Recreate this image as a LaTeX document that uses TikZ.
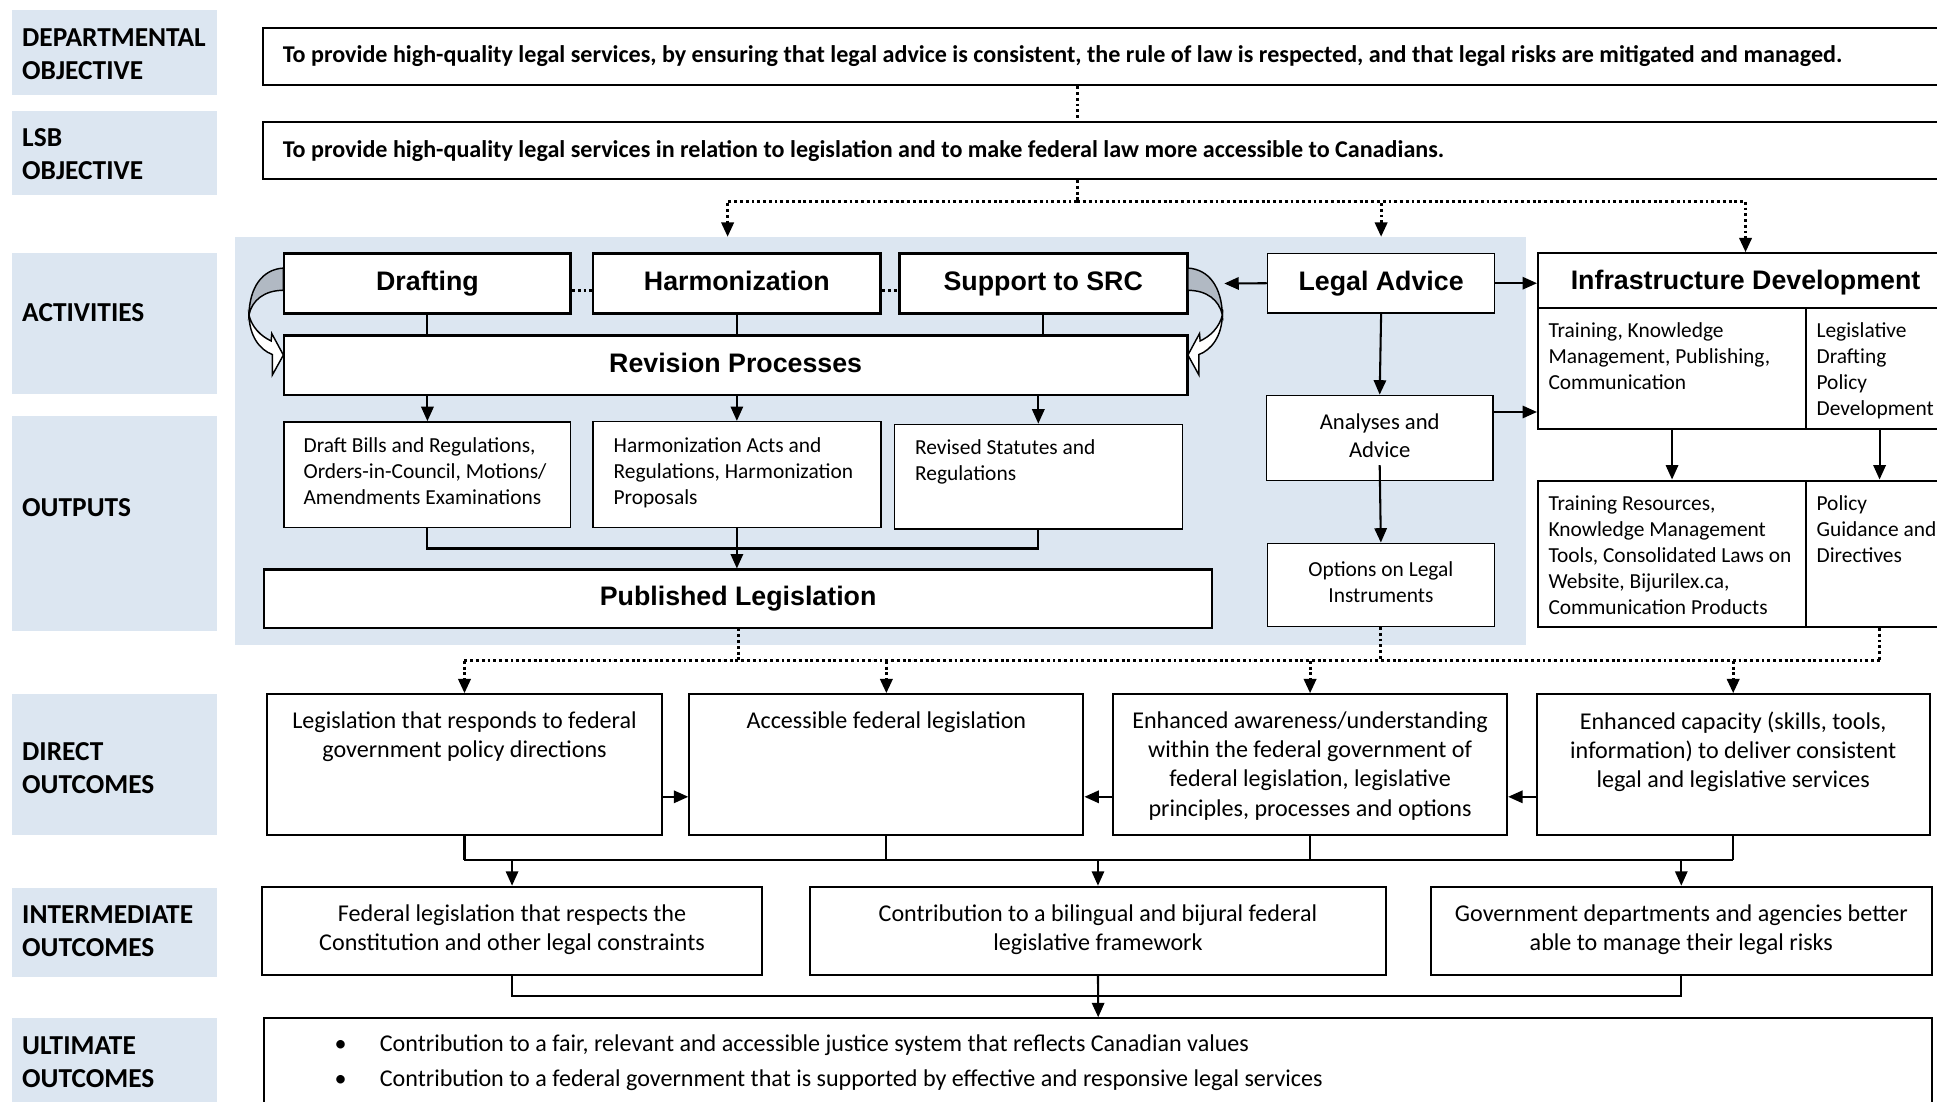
\documentclass[tikz,border=0pt]{standalone}
\usepackage{fontspec}
\setmainfont{Carlito}
\newfontfamily\headfont{Liberation Sans}
\usetikzlibrary{arrows.meta, positioning, fit, calc}

\definecolor{zoneblue}{HTML}{DCE6F1}
\definecolor{twistgray}{HTML}{B1B9C3}

\tikzset{
  rowlabel/.style={
    fill=zoneblue,
    inner sep=0pt
  },
  rowtext/.style={
    inner sep=0pt,
    anchor=west,
    align=left,
    font=\fontsize{13.3}{16}\selectfont\bfseries
  },
  zone/.style={
    fill=zoneblue,
    inner sep=0pt
  },
  objbox/.style={
    draw,
    line width=1pt,
    inner sep=0pt
  },
  objtext/.style={
    inner sep=0pt,
    anchor=base west,
    font=\fontsize{11.7}{14}\selectfont\bfseries
  },
  actbox/.style={
    draw,
    line width=1.3pt,
    fill=white,
    inner sep=0pt
  },
  headtext/.style={
    inner sep=0pt,
    anchor=base,
    font=\headfont\bfseries\fontsize{13}{15.6}\selectfont
  },
  outbox/.style={
    draw,
    line width=0.7pt,
    fill=white,
    inner sep=0pt
  },
  smalltext/.style={
    inner sep=0pt,
    anchor=north west,
    align=left,
    font=\fontsize{10.4}{12.6}\selectfont
  },
  midtext/.style={
    inner sep=0pt,
    align=center,
    font=\fontsize{10.4}{12.6}\selectfont
  },
  outcome/.style={
    draw,
    line width=1pt,
    fill=white,
    inner sep=0pt
  },
  outcometext/.style={
    inner sep=0pt,
    anchor=north,
    align=center,
    font=\fontsize{11.7}{14.2}\selectfont
  },
  link/.style={
    line width=1pt
  },
  arrow/.style={
    link,
    -{Triangle[length=7pt, width=6pt]}
  },
  dotlink/.style={
    line width=1.4pt,
    dash pattern=on 1.4pt off 1.4pt
  },
  dotarrow/.style={
    dotlink,
    -{Triangle[length=7pt, width=6pt]}
  },
  twist/.pic={
    \filldraw[fill=twistgray, line width=0.7pt]
      (229.4,217) .. controls (212,218) and (202,233) .. (201.5,255)
      .. controls (204,243) and (214,235) .. (229.4,235) -- cycle;
    \filldraw[fill=white, line width=0.7pt]
      (201.5,255) .. controls (202,272) and (210,283) .. (220.5,287)
      -- (220.5,303.5) -- (229.4,287.4) -- (220,270) -- (219.5,276)
      .. controls (211,272) and (204,265) .. (201.5,255) -- cycle;
  }
}

\begin{document}
\begin{tikzpicture}[x=0.6pt, y=-0.6pt]
  \useasboundingbox (0,0) rectangle (1568,892);
  \clip (0,0) rectangle (1568,892);
  \fill[white] (0,0) rectangle (1568,892);

  % Zone legislative
  \node[zone, fit={(190,192) (1235,522)}] (legzone) {};

  % Colonne de gauche
  \node[rowlabel, fit={(10,8) (176,77)}] (deptlbl) {};
  \node[rowtext] (deptlbltxt) at ($(deptlbl.west)+(8,1)$) {DEPARTMENTAL\\OBJECTIVE};
  \node[rowlabel, fit={(10,90) (176,158)}] (lsblbl) {};
  \node[rowtext] (lsblbltxt) at ($(lsblbl.west)+(8,1)$) {LSB\\OBJECTIVE};
  \node[rowlabel, fit={(10,205) (176,319)}] (actlbl) {};
  \node[rowtext] (actlbltxt) at ($(actlbl.west)+(8,-9)$) {ACTIVITIES};
  \node[rowlabel, fit={(10,337) (176,511)}] (outlbl) {};
  \node[rowtext] (outlbltxt) at ($(outlbl.west)+(8,-13)$) {OUTPUTS};
  \node[rowlabel, fit={(10,562) (176,676)}] (dirlbl) {};
  \node[rowtext] (dirlbltxt) at ($(dirlbl.west)+(8,3)$) {DIRECT\\OUTCOMES};
  \node[rowlabel, fit={(10,719) (176,790.6)}] (intlbl) {};
  \node[rowtext] (intlbltxt) at ($(intlbl.west)+(8,-1)$) {INTERMEDIATE\\OUTCOMES};
  \node[rowlabel, fit={(10,824) (176,895)}] (ultlbl) {};
  \node[rowtext] (ultlbltxt) at ($(ultlbl.west)+(8,0)$) {ULTIMATE\\OUTCOMES};

  % Objectifs
  \node[objbox, fit={(213,23) (1600,69)}] (deptobj) {};
  \node[objtext] (depttxt) at ($(deptobj.west)+(16.5,4.5)$) {To provide high-quality legal services, by ensuring that legal advice is consistent, the rule of law is respected, and that legal risks are mitigated and managed.};
  \node[objbox, fit={(213,98.5) (1600,145)}] (lsbobj) {};
  \node[objtext] (lsbtxt) at ($(lsbobj.west)+(16.5,6)$) {To provide high-quality legal services in relation to legislation and to make federal law more accessible to Canadians.};

  % Activites
  \node[actbox, fit={(230,205) (462,254)}] (draft) {};
  \node[headtext] (drafttxt) at ($(draft)+(0,6)$) {Drafting};
  \node[actbox, fit={(480,205) (713,254)}] (harm) {};
  \node[headtext] (harmtxt) at ($(harm)+(0,6)$) {Harmonization};
  \node[actbox, fit={(728,205) (961,254)}] (src) {};
  \node[headtext] (srctxt) at ($(src)+(0,6)$) {Support to SRC};
  \node[actbox, line width=0.7pt, fit={(1026,205) (1210,253.5)}] (advice) {};
  \node[headtext] (advicetxt) at ($(advice)+(0,5.5)$) {Legal Advice};
  \node[actbox, line width=1pt, fit={(1245,205) (1581,249)}] (infra) {};
  \node[headtext] (infratxt) at ($(infra)+(0,7.5)$) {Infrastructure Development};
  \node[actbox, fit={(230,271.7) (961,319.8)}] (rev) {};
  \node[headtext] (revtxt) at ($(rev)+(0,6)$) {Revision Processes};

  % Extrants
  \node[outbox, fit={(230,341.5) (462,427.2)}] (outdraft) {};
  \node[smalltext] (outdrafttxt) at ($(outdraft.north west)+(16,13)$) {Draft Bills and Regulations,\\Orders-in-Council, Motions/\\Amendments Examinations};
  \node[outbox, fit={(480,341.3) (713,427.2)}] (outharm) {};
  \node[smalltext] (outharmtxt) at ($(outharm.north west)+(17,13)$) {Harmonization Acts and\\Regulations, Harmonization\\Proposals};
  \node[outbox, fit={(724,343.5) (957,428.2)}] (outrev) {};
  \node[smalltext] (outrevtxt) at ($(outrev.north west)+(17,13)$) {Revised Statutes and\\Regulations};
  \node[actbox, line width=1pt, fit={(214,461) (981,508)}] (pub) {};
  \node[headtext] (pubtxt) at ($(pub)+(0,6)$) {Published Legislation};
  \node[outbox, fit={(1025,320) (1208.7,389)}] (analyses) {};
  \node[midtext, font=\fontsize{11}{13.8}\selectfont] (analysestxt) at ($(analyses)+(0,-2)$) {Analyses and\\Advice};
  \node[outbox, fit={(1026,439.8) (1209.6,507)}] (options) {};
  \node[midtext] (optionstxt) at ($(options)+(0,-2)$) {Options on Legal\\Instruments};

  \node[outbox, line width=1pt, fit={(1245,249) (1462,347.5)}] (infra1a) {};
  \node[smalltext] (infra1atxt) at ($(infra1a.north west)+(9,13)$) {Training, Knowledge\\Management, Publishing,\\Communication};
  \node[outbox, line width=1pt, fit={(1462,249) (1581,347.5)}] (infra1b) {};
  \node[smalltext] (infra1btxt) at ($(infra1b.north west)+(9,13)$) {Legislative\\Drafting\\Policy\\Development};
  \node[outbox, line width=1pt, fit={(1245,389) (1462,507.5)}] (infra2a) {};
  \node[smalltext] (infra2atxt) at ($(infra2a.north west)+(9,13)$) {Training Resources,\\Knowledge Management\\Tools, Consolidated Laws on\\Website, Bijurilex.ca,\\Communication Products};
  \node[outbox, line width=1pt, fit={(1462,389) (1581,507.5)}] (infra2b) {};
  \node[smalltext] (infra2btxt) at ($(infra2b.north west)+(9,13)$) {Policy\\Guidance and\\Directives};

  % Fleches de revision
  \pic at (0,0) {twist};
  \pic[xscale=-1] at (1191,0) {twist};

  % Resultats directs
  \node[outcome, fit={(216,562) (536,676)}] (dir1) {};
  \node[outcometext] (dir1txt) at ($(dir1.north)+(0,14.5)$) {Legislation that responds to federal\\government policy directions};
  \node[outcome, fit={(558,562) (877,676)}] (dir2) {};
  \node[outcometext] (dir2txt) at ($(dir2.north)+(0,14.5)$) {Accessible federal legislation};
  \node[outcome, fit={(901,562) (1220,676)}] (dir3) {};
  \node[outcometext] (dir3txt) at ($(dir3.north)+(0,14.5)$) {Enhanced awareness/understanding\\within the federal government of\\federal legislation, legislative\\principles, processes and options};
  \node[outcome, fit={(1244,562) (1562,676)}] (dir4) {};
  \node[outcometext] (dir4txt) at ($(dir4.north)+(0,14.5)$) {Enhanced capacity (skills, tools,\\information) to deliver consistent\\legal and legislative services};

  % Resultats intermediaires et ultimes
  \node[outcome, fit={(212,717.8) (617,789.3)}] (int1) {};
  \node[outcometext, anchor=center] (int1txt) at ($(int1)+(0,-1)$) {Federal legislation that respects the\\Constitution and other legal constraints};
  \node[outcome, fit={(656,717.8) (1121.6,789.3)}] (int2) {};
  \node[outcometext, anchor=center] (int2txt) at ($(int2)+(0,-1)$) {Contribution to a bilingual and bijural federal\\legislative framework};
  \node[outcome, fit={(1158,717.8) (1564,789.3)}] (int3) {};
  \node[outcometext, anchor=center] (int3txt) at ($(int3)+(0,-1)$) {Government departments and agencies better\\able to manage their legal risks};
  \node[outcome, fit={(214,824.3) (1564,910)}] (ult) {};
  \node[outcometext, anchor=base west, align=left] (ult1) at (270.5,851.3) {\makebox[22pt][l]{\textbullet}Contribution to a fair, relevant and accessible justice system that reflects Canadian values};
  \node[outcometext, anchor=base west, align=left] (ult2) at (270.5,879.3) {\makebox[22pt][l]{\textbullet}Contribution to a federal government that is supported by effective and responsive legal services};

  % Liens du haut
  \coordinate (split) at (872,163);
  \coordinate (splitL) at (589,163);
  \draw[dotlink] (deptobj.south -| split) -- (lsbobj.north -| split);
  \draw[dotlink] (lsbobj.south -| split) -- (split);
  \draw[dotarrow] (split) -- (splitL) -- (splitL |- legzone.north);
  \draw[dotarrow] (split) -| (legzone.north -| advice.north);
  \draw[dotarrow] (split) -| (infra.north);

  % Liens des activites
  \draw[dotlink] ($(draft.east)+(0,6)$) -- ($(harm.west)+(0,6)$);
  \draw[dotlink] ($(harm.east)+(0,6)$) -- ($(src.west)+(0,6)$);
  \foreach \a in {draft, harm, src}
    \draw[link] (\a.south) -- (\a.south |- rev.north);
  \draw[arrow] (advice.west) -- ($(src.east)+(29,0)$);
  \draw[arrow] (advice.east) -- (advice.east -| infra.west);
  \draw[arrow] (advice.south) -- (analyses.north);
  \coordinate (anaout) at ($(analyses.east)+(0,-21)$);
  \draw[arrow] (anaout) -- (anaout -| infra1a.west);
  \draw[arrow] ($(analyses.south)+(0,-13)$) -- (options.north);
  \draw[arrow] (infra1a.south) -- (infra2a.north);
  \draw[arrow] (infra1b.south) -- (infra2b.north);

  % Revision vers extrants
  \foreach \o in {outdraft, outharm, outrev}
    \draw[arrow] (\o.north |- rev.south) -- (\o.north);
  \coordinate (pubbus) at (0,444);
  \draw[link] (outdraft.south) -- (outdraft.south |- pubbus) -- (outrev.south |- pubbus) -- (outrev.south);
  \draw[arrow] (outharm.south) -- (outharm.south |- pub.north);

  % Vers les resultats directs
  \coordinate (dirbus) at (0,535);
  \draw[dotlink] (pub.south) -- (pub.south |- dirbus);
  \draw[dotlink] (options.south) -- (options.south |- dirbus);
  \draw[dotlink] (infra2b.south) -- (infra2b.south |- dirbus);
  \draw[dotlink] (dir1.north |- dirbus) -- (infra2b.south |- dirbus);
  \foreach \d in {dir1, dir2, dir3, dir4}
    \draw[dotarrow] (\d.north |- dirbus) -- (\d.north);
  \draw[arrow] ($(dir1.east)+(0,26)$) -- ($(dir2.west)+(0,26)$);
  \draw[arrow] ($(dir3.west)+(0,26)$) -- ($(dir2.east)+(0,26)$);
  \draw[arrow] ($(dir4.west)+(0,26)$) -- ($(dir3.east)+(0,26)$);

  % Vers les resultats intermediaires et ultimes
  \coordinate (intbus) at (0,696);
  \foreach \d in {dir1, dir2, dir3, dir4}
    \draw[link] (\d.south) -- (\d.south |- intbus);
  \draw[link] (dir1.south |- intbus) -- (dir4.south |- intbus);
  \foreach \i in {int1, int2, int3}
    \draw[arrow] (\i.north |- intbus) -- (\i.north);
  \coordinate (ultbus) at (0,806);
  \draw[link] (int1.south) -- (int1.south |- ultbus) -- (int3.south |- ultbus) -- (int3.south);
  \draw[arrow] (int2.south) -- (ult.north);
\end{tikzpicture}
\end{document}
